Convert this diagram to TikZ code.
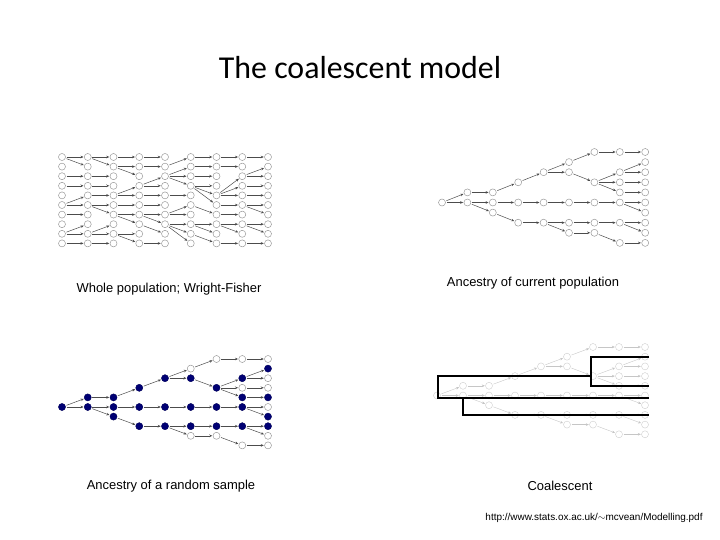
\documentclass[tikz,border=0pt]{standalone}
\usepackage{fontspec}
\setmainfont{Liberation Sans}
\newfontfamily\titlefont{Carlito}
\usetikzlibrary{arrows.meta}
\tikzset{
  pnode/.style={circle,draw=gray!80,line width=0.5pt,minimum size=7bp,inner sep=0pt},
  fnode/.style={circle,draw=blue!40!black,fill=blue!45!black,minimum size=7bp,inner sep=0pt},
  faint/.style={circle,draw=gray!40,line width=0.4pt,minimum size=7bp,inner sep=0pt},
  parr/.style={-{Stealth[length=3pt,width=2.6pt]},draw=gray!60!black,line width=0.5pt,shorten <=1pt,shorten >=0.5pt},
  farr/.style={-{Stealth[length=3pt,width=2.6pt]},draw=gray!45,line width=0.4pt,shorten <=1pt,shorten >=0.5pt},
  coal/.style={line width=2.2pt,black},
  lbl/.style={font=\fontsize{13}{15}\selectfont},
}
\newcommand{\treeedges}{1/4/5,1/5/5,2/4/4,2/5/5,2/6/5,3/3/4,3/5/5,3/7/6,4/2/3,4/5/5,4/7/7,5/1/2,5/2/2,5/5/5,5/7/7,5/8/7,6/0/1,6/3/2,6/5/5,6/7/7,6/8/8,7/0/0,7/2/3,7/3/3,7/4/3,7/5/5,7/7/7,7/9/8,8/0/0,8/1/2,8/2/2,8/3/3,8/4/4,8/5/5,8/6/5,8/7/7,8/8/7,8/9/9}
% #1 prefix #2 x0 #3 dx #4 y0 #5 dy #6 node style #7 arrow style
\newcommand{\drawtree}[7]{%
  \node[#6] (#1-0-5) at (#2,{#4+5*#5}) {};
  \foreach \c/\r/\p [evaluate=\c as \q using int(\c-1)] in \treeedges {
    \node[#6] (#1-\c-\r) at ({#2+\c*#3},{#4+\r*#5}) {};
    \draw[#7] (#1-\q-\p) -- (#1-\c-\r);
  }}
\begin{document}
\begin{tikzpicture}[x=1bp,y=-1bp]
\useasboundingbox (0,0) rectangle (720,540);
\node[font=\titlefont\fontsize{32}{36}\selectfont] (title) at (360,68) {The coalescent model};
% Whole population grid
\foreach \r in {0,...,9} \node[pnode] (g-0-\r) at (62,{157+\r*9.6}) {};
\foreach \c/\plist [evaluate=\c as \q using int(\c-1)] in
 {1/{0,0,2,3,5,5,6,8,8,9},2/{0,0,2,3,4,5,5,8,8,9},3/{0,1,1,4,4,5,6,6,8,8},4/{0,1,3,3,4,5,6,6,7,9},
  5/{1,2,2,2,4,6,6,7,7,7},6/{0,1,2,3,3,3,5,7,7,8},7/{0,1,4,4,4,5,6,7,7,9},8/{0,2,2,3,4,5,5,7,7,9}} {
  \foreach \p [count=\i from 0] in \plist {
    \node[pnode] (g-\c-\i) at ({62+\c*25.75},{157+\i*9.6}) {};
    \draw[parr] (g-\q-\p) -- (g-\c-\i);
  }}
\node[lbl] (l1) at (169,289) {Whole population; Wright-Fisher};
% Ancestry of current population
\drawtree{tr}{442}{25.4}{152}{10.1}{pnode}{parr}
\node[lbl] (l2) at (533,283) {Ancestry of current population};
% Random sample
\drawtree{bl}{62}{25.75}{359}{9.6}{pnode}{parr}
\foreach \c/\r in {0/5,1/4,1/5,2/4,2/5,2/6,3/3,3/5,3/7,4/2,4/5,4/7,5/2,5/5,5/7,6/3,6/5,6/7,7/2,7/4,7/5,7/7,8/1,8/4,8/6,8/7}
  \node[fnode] at (bl-\c-\r) {};
\node[lbl] (l3) at (171,486) {Ancestry of a random sample};
% Coalescent
\drawtree{br}{437}{26}{347}{9.7}{faint}{farr}
\coordinate (cA) at (591,0);
\coordinate (cB) at (438,0);
\coordinate (cC) at (463,398);
\draw[coal] ([xshift=4bp]br-8-1.center) -| (cA |- br-8-1) |- ([xshift=4bp]br-8-4.center);
\draw[coal] (cA |- br-6-3) -- (cB |- br-6-3) |- (cC);
\draw[coal] ([xshift=4bp]br-8-6.center |- cC) -- (cC) |- ([xshift=4bp]br-8-7.center);
\node[lbl] (l4) at (560,486) {Coalescent};
\node[font=\fontsize{10}{12}\selectfont] (url) at (594,518) {http://www.stats.ox.ac.uk/$\sim$mcvean/Modelling.pdf};
\end{tikzpicture}
\end{document}
